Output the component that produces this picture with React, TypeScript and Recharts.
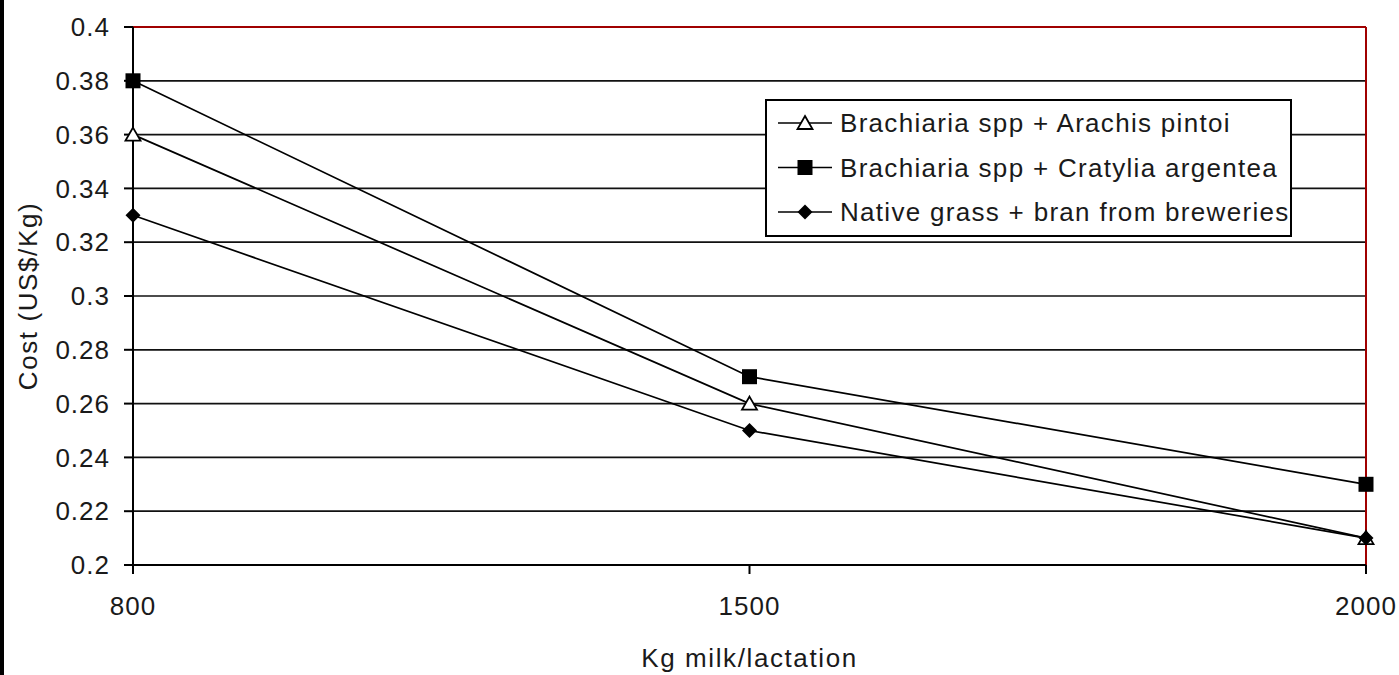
import { LineChart, Line, XAxis, YAxis, CartesianGrid, Legend, ReferenceLine } from 'recharts';

const categories = ['800', '1500', '2000'];
const arachisPintoi = [0.36, 0.26, 0.21];
const cratyliaArgentea = [0.38, 0.27, 0.23];
const nativeGrass = [0.33, 0.25, 0.21];
const yTicks = [0.2, 0.22, 0.24, 0.26, 0.28, 0.3, 0.32, 0.34, 0.36, 0.38, 0.4];

const seriesNames = [
  'Brachiaria spp + Arachis pintoi',
  'Brachiaria spp + Cratylia argentea',
  'Native grass + bran from breweries',
];

const chartData = categories.map((name, i) => ({
  name,
  arachis: arachisPintoi[i],
  cratylia: cratyliaArgentea[i],
  native: nativeGrass[i],
}));

const FONT = '"Liberation Sans", Arial, sans-serif';
const BORDER_RED = '#a00000';
const TEXT = '#1a1a1a';

type Kind = 'triangle' | 'square' | 'diamond';

function Marker({ kind, cx, cy }: { kind: Kind; cx: number; cy: number }) {
  if (kind === 'square') {
    return <rect x={cx - 7.5} y={cy - 7.5} width={15} height={15} fill="#000" />;
  }
  if (kind === 'triangle') {
    return (
      <path
        d={`M${cx},${cy - 7} L${cx + 7.5},${cy + 6} L${cx - 7.5},${cy + 6} Z`}
        fill="#fff"
        stroke="#000"
        strokeWidth={1.8}
      />
    );
  }
  return <path d={`M${cx},${cy - 7.5} L${cx + 7.5},${cy} L${cx},${cy + 7.5} L${cx - 7.5},${cy} Z`} fill="#000" />;
}

const renderDot = (kind: Kind) => (props: any) => {
  const { cx, cy, index } = props;
  return (
    <g key={`${kind}-${index}`}>
      <Marker kind={kind} cx={cx} cy={cy} />
    </g>
  );
};

const kinds: Kind[] = ['triangle', 'square', 'diamond'];

const CustomLegend = () => (
  <svg width={527} height={138} style={{ display: 'block' }}>
    <rect x={1} y={1} width={525} height={136} fill="#fff" stroke="#000" strokeWidth={2} />
    {seriesNames.map((label, i) => {
      const cy = 24 + i * 44.5;
      return (
        <g key={label}>
          <line x1={13} x2={67} y1={cy} y2={cy} stroke="#000" strokeWidth={1.7} />
          <Marker kind={kinds[i]} cx={40} cy={cy} />
          <text
            x={75}
            y={cy}
            dominantBaseline="central"
            fontSize={26}
            letterSpacing={1.3}
            fontFamily={FONT}
            fill={TEXT}
          >
            {label}
          </text>
        </g>
      );
    })}
  </svg>
);

const YTitle = (props: any) => {
  const vb = props.viewBox || { y: 27, height: 538 };
  const cx = 37;
  const cy = vb.y + vb.height / 2;
  return (
    <text
      x={cx}
      y={cy}
      transform={`rotate(-90, ${cx}, ${cy})`}
      textAnchor="middle"
      fontSize={26}
      letterSpacing={1.6}
      fontFamily={FONT}
      fill={TEXT}
    >
      Cost (US$/Kg)
    </text>
  );
};

export default function App() {
  return (
    <div style={{ position: 'absolute', left: 0, top: 0, width: 1399, height: 675, background: '#fff' }}>
      <div style={{ position: 'absolute', left: 0, top: 0, width: 4, height: 675, background: '#000' }} />
      <LineChart width={1399} height={675} data={chartData} margin={{ top: 27, right: 33, left: 0, bottom: 0 }}>
        <CartesianGrid vertical={false} stroke="#111" strokeWidth={1.7} strokeDasharray="" />
        <XAxis
          dataKey="name"
          height={110}
          tick={{ fontSize: 26, fill: TEXT, fontFamily: FONT, letterSpacing: 1 }}
          tickSize={9}
          tickMargin={23}
          axisLine={{ stroke: '#000', strokeWidth: 2 }}
          tickLine={{ stroke: '#000', strokeWidth: 2 }}
          interval={0}
          label={{
            value: 'Kg milk/lactation',
            position: 'insideBottom',
            offset: 8,
            fontSize: 26,
            letterSpacing: 1.6,
            fill: TEXT,
            fontFamily: FONT,
          }}
        />
        <YAxis
          width={133}
          domain={[0.2, 0.4]}
          ticks={yTicks}
          interval={0}
          tickFormatter={(v: number) => String(Math.round(v * 100) / 100)}
          tick={{ fontSize: 26, fill: TEXT, fontFamily: FONT, letterSpacing: 1 }}
          tickSize={9}
          tickMargin={14}
          axisLine={{ stroke: '#000', strokeWidth: 2 }}
          tickLine={{ stroke: '#000', strokeWidth: 2 }}
          label={<YTitle />}
        />
        <ReferenceLine y={0.4} stroke={BORDER_RED} strokeWidth={2} />
        <ReferenceLine x="2000" stroke={BORDER_RED} strokeWidth={2} />
        <Legend
          layout="vertical"
          align="center"
          verticalAlign="middle"
          content={<CustomLegend />}
          wrapperStyle={{ left: 765, top: 99, width: 527, height: 138 }}
        />
        <Line
          dataKey="arachis"
          name={seriesNames[0]}
          stroke="#000"
          strokeWidth={1.7}
          dot={renderDot('triangle')}
          activeDot={false}
          isAnimationActive={false}
        />
        <Line
          dataKey="cratylia"
          name={seriesNames[1]}
          stroke="#000"
          strokeWidth={1.7}
          dot={renderDot('square')}
          activeDot={false}
          isAnimationActive={false}
        />
        <Line
          dataKey="native"
          name={seriesNames[2]}
          stroke="#000"
          strokeWidth={1.7}
          dot={renderDot('diamond')}
          activeDot={false}
          isAnimationActive={false}
        />
      </LineChart>
    </div>
  );
}
